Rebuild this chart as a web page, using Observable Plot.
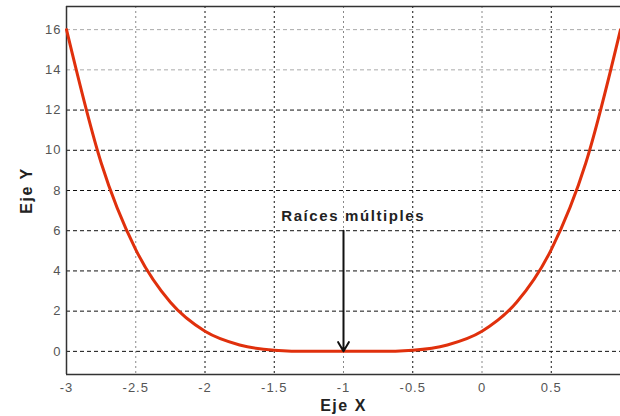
<!DOCTYPE html>
<html>
<head>
<meta charset="utf-8">
<script src="https://cdn.jsdelivr.net/npm/d3@7"></script>
<script src="https://cdn.jsdelivr.net/npm/@observablehq/plot@0.6"></script>
<style>
  html, body { margin: 0; padding: 0; background: #fff; }
  #chart svg { font-family: "Liberation Sans", Arial, sans-serif; }
  #chart g[aria-label="x-axis tick label"] text, #chart g[aria-label="y-axis tick label"] text { letter-spacing: 1px; }
  #chart g[aria-label="x-axis label"] text, #chart g[aria-label="y-axis label"] text { font-weight: bold; font-size: 16px; fill: #222; letter-spacing: 1.5px; }
  #chart g[aria-label="text"] text { letter-spacing: 1.6px; }
</style>
</head>
<body>
<div id="chart"></div>
<script>
// Curve values
const xs = [-3, -2.75, -2.5, -2.25, -2, -1.75, -1.5, -1.25, -1, -0.75, -0.5, -0.25, 0, 0.25, 0.5, 0.75, 1];
const ys = [16, 9.38, 5.06, 2.44, 1.0, 0.32, 0.06, 0.0, 0, 0.0, 0.06, 0.32, 1.0, 2.44, 5.06, 9.38, 16];
const xTicks = [-3, -2.5, -2, -1.5, -1, -0.5, 0, 0.5];
const yTicks = [0, 2, 4, 6, 8, 10, 12, 14, 16];
const annotation = ["Raíces múltiples"];
const arrowFrom = [-1, 6];
const arrowTo = [-1, 0];
const xDomain = [-3, 1];
const yDomain = [-1.15, 17.15];

const curve = xs.map((x, i) => ({x, y: ys[i]}));

const chart = Plot.plot({
  width: 620,
  height: 416,
  marginLeft: 66,
  marginRight: 0,
  marginTop: 6,
  marginBottom: 42,
  style: {fontSize: "13px", fontFamily: "Liberation Sans, Arial, sans-serif"},
  x: {domain: xDomain},
  y: {domain: yDomain},
  marks: [
    Plot.ruleY(yTicks, {stroke: d => d >= 14 ? "#aaa" : "#111", strokeDasharray: "4,3", strokeWidth: 1}),
    Plot.ruleX(xTicks.filter(d => d !== -3), {stroke: d => (d === -2.5 || d === -1 || d === 0) ? "#888" : "#111", strokeDasharray: "2,3", strokeWidth: 1}),
    Plot.ruleX([xDomain[0]], {stroke: "#333", strokeWidth: 1.5}),
    Plot.ruleY([yDomain[0], yDomain[1]], {stroke: "#333", strokeWidth: 1.5}),
    Plot.axisX({ticks: xTicks, tickSize: 0, tickPadding: 8, tickFormat: d => String(d), fill: "#555", label: "Eje X", labelAnchor: "center", labelArrow: "none", labelOffset: 36}),
    Plot.axisY({ticks: yTicks, tickSize: 0, tickPadding: 5, fill: "#555", label: "Eje Y", labelAnchor: "center", labelArrow: "none", labelOffset: 46}),
    Plot.line(curve, {x: "x", y: "y", stroke: "#e0300c", strokeWidth: 3, curve: "monotone-x"}),
    Plot.arrow([{x1: arrowFrom[0], y1: arrowFrom[1], x2: arrowTo[0], y2: arrowTo[1]}], {x1: "x1", y1: "y1", x2: "x2", y2: "y2", stroke: "#111", strokeWidth: 2, headLength: 8}),
    Plot.text(annotation, {x: -0.93, y: 6.7, text: d => d, fontWeight: "bold", fontSize: 15, fill: "#222"})
  ]
});
document.getElementById("chart").appendChild(chart);
</script>
</body>
</html>
